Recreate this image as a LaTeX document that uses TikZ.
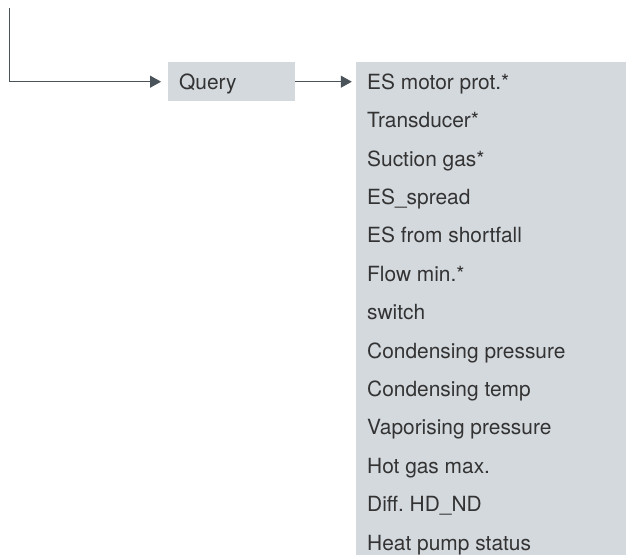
\documentclass[tikz,border=0pt]{standalone}
\usepackage{fontspec}
\setmainfont{TeX Gyre Heros}
\usetikzlibrary{arrows.meta}
\frenchspacing
\definecolor{linec}{HTML}{4B535A}
\definecolor{boxc}{HTML}{D4D9DE}
\definecolor{textc}{HTML}{333333}
\tikzset{
  boxshape/.style={draw=none, fill=boxc, rectangle, inner sep=0pt},
  lbl/.style={anchor=base west, inner sep=0pt, text=textc, font=\fontsize{20.9}{24}\selectfont},
  conn/.style={draw=linec, line width=1pt, -{Triangle[length=11pt,width=12pt]}},
}
\begin{document}
\begin{tikzpicture}[x=1pt,y=-1pt]
\useasboundingbox (0,0) rectangle (626,555);
\node[boxshape, minimum width=127.5pt, minimum height=39pt] (query) at (231.5,81.7) {};
\node[lbl] (qtext) at (179,89.3) {Query};
\node[boxshape, minimum width=270pt, minimum height=493pt] (list) at (491,308.5) {};
\coordinate (start) at (9.3,8);
\draw[conn, shorten >=6.5pt] (start) |- (query.west);
\draw[conn, shorten >=4pt] (query.east) -- (query.east -| list.west);
\foreach \t [count=\i from 0] in {ES motor prot.*, Transducer*, Suction gas*, ES\_spread, ES from shortfall, Flow min.*, switch, Condensing pressure, Condensing temp, Vaporising pressure, Hot gas max., Diff.\ HD\_ND, Heat pump status}{
  \node[lbl] (item\i) at (367,89.3+38.4*\i) {\t};
}
\end{tikzpicture}
\end{document}
